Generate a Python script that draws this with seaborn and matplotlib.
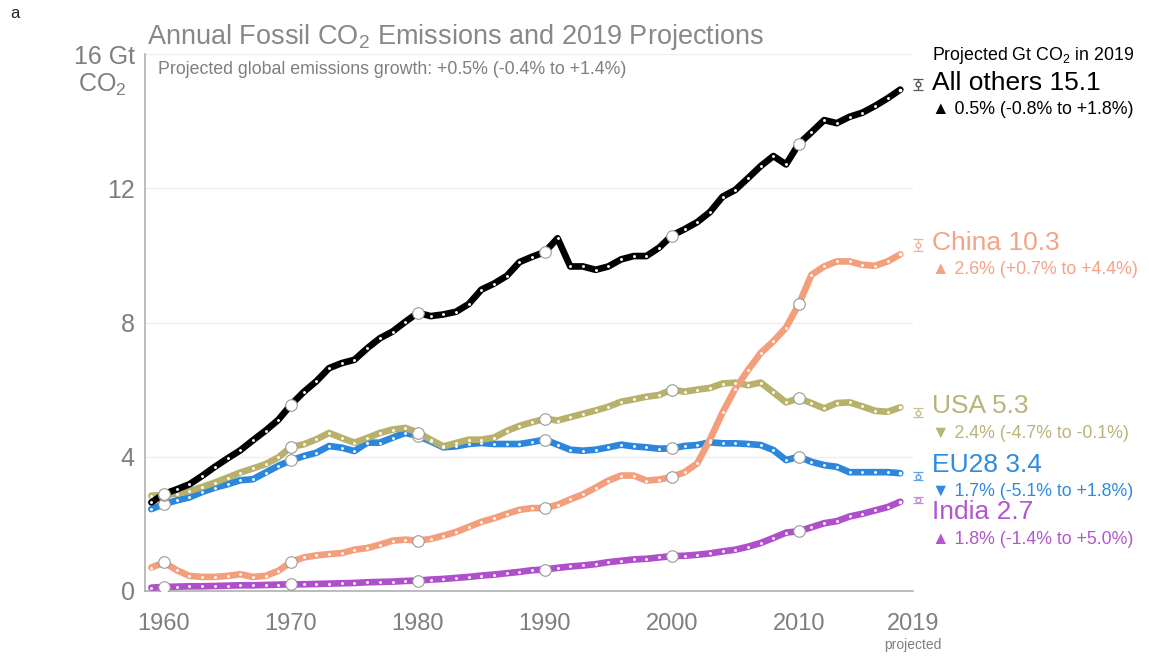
import matplotlib
matplotlib.use("Agg")
import matplotlib.pyplot as plt
import numpy as np
import pandas as pd
import seaborn as sns

years = list(range(1959, 2019))

all_others = [2.64, 2.89, 3.03, 3.18, 3.43, 3.70, 3.95, 4.19, 4.49, 4.78, 5.10,
              5.55, 5.93, 6.25, 6.64, 6.79, 6.89, 7.23, 7.53, 7.73, 8.02,
              8.29, 8.19, 8.24, 8.32, 8.55, 8.98, 9.16, 9.39, 9.80, 9.96,
              10.10, 10.51, 9.67, 9.67, 9.57, 9.67, 9.88, 9.98, 9.98, 10.23,
              10.59, 10.78, 10.99, 11.29, 11.75, 11.95, 12.30, 12.66, 12.96, 12.71,
              13.32, 13.67, 14.03, 13.94, 14.13, 14.25, 14.45, 14.68, 14.94]
china = [0.70, 0.85, 0.62, 0.45, 0.42, 0.42, 0.45, 0.50, 0.42, 0.45, 0.60,
         0.86, 1.00, 1.06, 1.10, 1.13, 1.23, 1.28, 1.38, 1.50, 1.53,
         1.50, 1.55, 1.65, 1.76, 1.91, 2.06, 2.17, 2.30, 2.42, 2.47,
         2.47, 2.57, 2.73, 2.88, 3.08, 3.29, 3.44, 3.44, 3.29, 3.32,
         3.40, 3.54, 3.80, 4.51, 5.32, 6.03, 6.58, 7.09, 7.44, 7.85,
         8.54, 9.42, 9.67, 9.82, 9.82, 9.72, 9.69, 9.82, 10.03]
usa = [2.84, 2.86, 2.90, 2.98, 3.10, 3.23, 3.38, 3.53, 3.65, 3.78, 3.98,
       4.29, 4.37, 4.52, 4.71, 4.56, 4.42, 4.56, 4.71, 4.81, 4.86,
       4.72, 4.51, 4.31, 4.41, 4.51, 4.51, 4.57, 4.77, 4.92, 5.03,
       5.13, 5.08, 5.18, 5.28, 5.38, 5.49, 5.64, 5.71, 5.79, 5.84,
       6.00, 5.94, 6.00, 6.05, 6.18, 6.21, 6.13, 6.21, 5.92, 5.62,
       5.74, 5.60, 5.44, 5.60, 5.62, 5.50, 5.37, 5.34, 5.47]
eu28 = [2.44, 2.59, 2.70, 2.79, 2.95, 3.08, 3.18, 3.30, 3.33, 3.53, 3.73,
        3.89, 4.02, 4.12, 4.32, 4.27, 4.17, 4.42, 4.42, 4.57, 4.71,
        4.62, 4.46, 4.28, 4.31, 4.38, 4.41, 4.38, 4.38, 4.38, 4.44,
        4.51, 4.36, 4.21, 4.18, 4.21, 4.28, 4.36, 4.31, 4.28, 4.24,
        4.25, 4.32, 4.35, 4.43, 4.40, 4.40, 4.38, 4.35, 4.20, 3.90,
        4.00, 3.85, 3.75, 3.70, 3.54, 3.54, 3.54, 3.54, 3.51]
india = [0.10, 0.12, 0.13, 0.14, 0.14, 0.15, 0.16, 0.17, 0.17, 0.18, 0.19,
         0.20, 0.20, 0.21, 0.22, 0.23, 0.24, 0.26, 0.27, 0.28, 0.30,
         0.31, 0.34, 0.36, 0.39, 0.42, 0.46, 0.49, 0.53, 0.57, 0.62,
         0.64, 0.69, 0.73, 0.76, 0.80, 0.86, 0.90, 0.94, 0.96, 1.00,
         1.04, 1.05, 1.08, 1.12, 1.18, 1.23, 1.32, 1.43, 1.58, 1.74,
         1.78, 1.90, 2.02, 2.08, 2.22, 2.30, 2.40, 2.50, 2.66]

regions = ["All others", "China", "USA", "EU28", "India"]
proj_2019 = [15.1, 10.3, 5.3, 3.4, 2.7]
proj_lo = [14.92, 10.13, 5.18, 3.30, 2.63]
proj_hi = [15.27, 10.50, 5.45, 3.55, 2.80]
growth = ["\u25B2 0.5% (-0.8% to +1.8%)", "\u25B2 2.6% (+0.7% to +4.4%)",
          "\u25BC 2.4% (-4.7% to -0.1%)", "\u25BC 1.7% (-5.1% to +1.8%)",
          "\u25B2 1.8% (-1.4% to +5.0%)"]
decades = [1960, 1970, 1980, 1990, 2000, 2010]
x_ticks = [1960, 1970, 1980, 1990, 2000, 2010, 2019]
y_ticks = [0, 4, 8, 12, 16]
y_tick_labels = ["0", "4", "8", "12", "16 Gt"]

series = {"All others": all_others, "China": china, "USA": usa, "EU28": eu28, "India": india}
line_colors = {"All others": "#000000", "China": "#F49F7C", "USA": "#B8B16C",
               "EU28": "#2B87DE", "India": "#AF4FCB"}
text_colors = {"All others": "#000000", "China": "#F4A485", "USA": "#BAB47A",
               "EU28": "#2F8BE0", "India": "#B357CF"}
bar_colors = {"All others": "#555555", "China": "#F4B398", "USA": "#C6C291",
              "EU28": "#5FA3E6", "India": "#C58ADB"}
label_y_px = {"All others": 83, "China": 243, "USA": 406, "EU28": 465, "India": 512}

sns.set_theme(style="white")
plt.rcParams["font.family"] = ["Liberation Sans", "DejaVu Sans"]
plt.rcParams["mathtext.default"] = "regular"

GRAY = "#7f7f7f"
W, H = 1149, 657

fig = plt.figure(figsize=(W / 100, H / 100), dpi=100)
ax = fig.add_axes([145 / W, 1 - 591 / H, (913 - 145) / W, (591 - 54) / H])

df = pd.DataFrame({"year": years, **series})

for name in ["India", "EU28", "USA", "China", "All others"]:
    sns.lineplot(data=df, x="year", y=name, color=line_colors[name], lw=4.8,
                 ax=ax, solid_capstyle="round", solid_joinstyle="round", zorder=3)
    ax.plot(df["year"], df[name], ls="none", marker="o", ms=2.1,
            mfc="white", mec="none", zorder=4)
    dec = df[df["year"].isin(decades)]
    ax.plot(dec["year"], dec[name], ls="none", marker="o", ms=8.3,
            mfc="white", mec="#9a9a9a", mew=0.8, zorder=5)
    last = df.iloc[-1]
    ax.plot([last["year"]], [last[name]], ls="none", marker="o", ms=2.6,
            mfc="white", mec="none", zorder=5)

for i, name in enumerate(regions):
    lo = proj_2019[i] - proj_lo[i]
    hi = proj_hi[i] - proj_2019[i]
    ax.errorbar([2019.4], [proj_2019[i]], yerr=[[lo], [hi]], fmt="o", ms=3.4,
                mfc="white", mec=bar_colors[name], ecolor=bar_colors[name],
                elinewidth=0.9, capsize=3.6, capthick=0.9, clip_on=False, zorder=6)

ax.set_xlim(1958.5, 2019)
ax.set_ylim(0, 16)
ax.set_xticks(x_ticks)
ax.set_xticklabels([str(t) for t in x_ticks])
ax.set_yticks(y_ticks)
ax.set_yticklabels(y_tick_labels)
ax.set_xlabel("")
ax.set_ylabel("")
ax.yaxis.grid(True, color="#eeeeee", lw=1.0, zorder=0)
ax.xaxis.grid(False)
for s in ["top", "right"]:
    ax.spines[s].set_visible(False)
for s in ["left", "bottom"]:
    ax.spines[s].set_color("#b0b0b0")
    ax.spines[s].set_linewidth(1.2)
ax.tick_params(axis="both", which="both", direction="out", length=6, width=1,
               color="#b0b0b0", labelcolor=GRAY)
ax.tick_params(axis="x", labelsize=17, pad=10)
ax.tick_params(axis="y", labelsize=18, pad=1.5)

# axis decorations
fig.text(127 / W, 1 - 85 / H, "CO$_2$", ha="right", va="center", fontsize=18, color=GRAY)
fig.text(913 / W, 1 - 645 / H, "projected", ha="center", va="center", fontsize=10, color=GRAY)
fig.text(10 / W, 1 - 14 / H, "a", ha="left", va="center", fontsize=12, color="#222222")

fig.text(147 / W, 1 - 37 / H, "Annual Fossil CO$_2$ Emissions and 2019 Projections",
         ha="left", va="center", fontsize=19.5, color="#888888")
fig.text(158 / W, 1 - 70 / H,
         "Projected global emissions growth: +0.5% (-0.4% to +1.4%)",
         ha="left", va="center", fontsize=12.8, color=GRAY)

# right-hand labels
fig.text(932 / W, 1 - 56 / H, "Projected Gt CO$_2$ in 2019", ha="left", va="center",
         fontsize=12.8, color="#000000")
for i, name in enumerate(regions):
    yp = label_y_px[name]
    fig.text(932 / W, 1 - yp / H, f"{name} {proj_2019[i]}", ha="left", va="center",
             fontsize=19, color=text_colors[name])
    fig.text(932 / W, 1 - (yp + 27) / H, growth[i], ha="left", va="center",
             fontsize=12.8, color=text_colors[name])

fig.savefig("out.png", dpi=100)
